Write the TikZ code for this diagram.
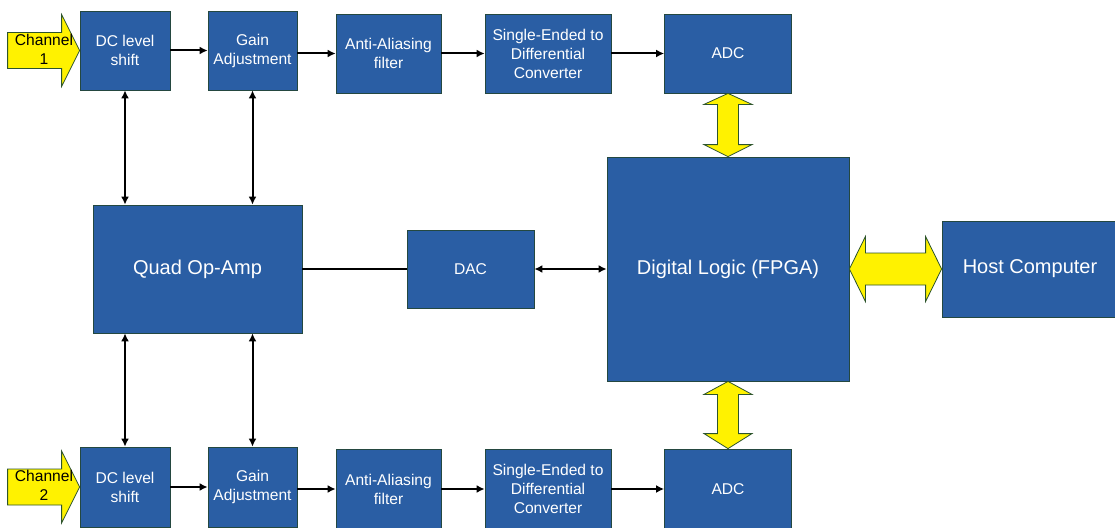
\documentclass[tikz,border=0pt]{standalone}
\usepackage{fontspec}
\setmainfont{Liberation Sans}
\usetikzlibrary{arrows.meta,calc}
\definecolor{blkblue}{RGB}{42,94,164}
\definecolor{blkedge}{RGB}{36,72,64}
\definecolor{arredge}{RGB}{44,84,44}

\begin{document}
\begin{tikzpicture}[x=1pt,y=-1pt]
	\tikzset{blk/.style={draw=blkedge, line width=0.8pt, fill=blkblue, text=white, align=center,
			inner sep=0pt, font=\fontsize{15.6}{19}\selectfont}}
	\tikzset{bigblk/.style={blk, font=\fontsize{20}{24}\selectfont}}
	\tikzset{sig/.style={-{Latex[length=8pt,width=8pt]}, line width=2pt}}
	\tikzset{bisig/.style={{Latex[length=8pt,width=8pt]}-{Latex[length=8pt,width=8pt]}, line width=2pt}}
	\tikzset{yarrow/.style={draw=arredge, fill=yellow, line width=0.8pt}}
	\tikzset{chlabel/.style={align=center, inner sep=0pt, font=\fontsize{15.6}{19}\selectfont}}
	\useasboundingbox (0,0) rectangle (1115,527);
	\node[blk, minimum width=90pt, minimum height=79pt] (dc1) at (125,50.5) {DC level\\shift};
	\node[blk, minimum width=89pt, minimum height=79pt] (gain1) at (252.5,50.5) {Gain\\Adjustment};
	\node[blk, minimum width=105pt, minimum height=79pt] (aa1) at (388.5,53.5) {Anti-Aliasing\\filter};
	\node[blk, minimum width=126pt, minimum height=79pt] (se1) at (548,53.5) {Single-Ended to\\Differential\\Converter};
	\node[blk, minimum width=127pt, minimum height=79pt] (adc1) at (728,53.5) {ADC};
	\node[bigblk, minimum width=209pt, minimum height=128pt] (quad) at (197.5,269) {Quad Op-Amp};
	\node[blk, minimum width=127pt, minimum height=78pt] (dac) at (470.5,269) {DAC};
	\node[bigblk, minimum width=242pt, minimum height=224pt] (fpga) at (728,269) {Digital Logic (FPGA)};
	\node[bigblk, minimum width=176pt, minimum height=96pt] (host) at (1030,269) {Host Computer};
	\node[blk, minimum width=90pt, minimum height=80pt] (dc2) at (125,487) {DC level\\shift};
	\node[blk, minimum width=89pt, minimum height=80pt] (gain2) at (252.5,487) {Gain\\Adjustment};
	\node[blk, minimum width=105pt, minimum height=80pt] (aa2) at (388.5,489) {Anti-Aliasing\\filter};
	\node[blk, minimum width=126pt, minimum height=80pt] (se2) at (548,489) {Single-Ended to\\Differential\\Converter};
	\node[blk, minimum width=127pt, minimum height=80pt] (adc2) at (728,489) {ADC};

	\draw[yarrow] (dc1.west) -- ++(-18,-36) -- ++(0,18) -- ++(-54,0) -- ++(0,36) -- ++(54,0) -- ++(0,18) -- cycle;
	\draw[yarrow] (dc2.west) -- ++(-18,-36) -- ++(0,18) -- ++(-54,0) -- ++(0,36) -- ++(54,0) -- ++(0,18) -- cycle;
	\node[chlabel] (ch1) at (44,49) {Channel\\1};
	\node[chlabel] (ch2) at (44,485) {Channel\\2};

	\draw[yarrow] (adc1.south) -- ++(24,11) -- ++(-13.5,0) -- ($(fpga.north)+(10.5,-12)$) -- ++(13.5,0)
		-- (fpga.north) -- ++(-24,-12) -- ++(13.5,0) -- ($(adc1.south)+(-10.5,11)$) -- ++(-13.5,0) -- cycle;
	\draw[yarrow] (fpga.south) -- ++(24,13) -- ++(-13.5,0) -- ($(adc2.north)+(10.5,-15)$) -- ++(13.5,0)
		-- (adc2.north) -- ++(-24,-15) -- ++(13.5,0) -- ($(fpga.south)+(-10.5,13)$) -- ++(-13.5,0) -- cycle;
	\draw[yarrow] (fpga.east) -- ++(16,-32.5) -- ++(0,16.5) -- ($(host.west)+(-16,-16)$) -- ++(0,-16.5)
		-- (host.west) -- ++(-16,32.5) -- ++(0,-16.5) -- ($(fpga.east)+(16,16)$) -- ++(0,16.5) -- cycle;

	\draw[sig] (dc1.east) -- (gain1.west);
	\draw[sig] (gain1.east |- aa1.west) -- (aa1.west);
	\draw[sig] (aa1.east) -- (se1.west);
	\draw[sig] (se1.east) -- (adc1.west);
	\draw[sig] (dc2.east) -- (gain2.west);
	\draw[sig] (gain2.east |- aa2.west) -- (aa2.west);
	\draw[sig] (aa2.east) -- (se2.west);
	\draw[sig] (se2.east) -- (adc2.west);
	\draw[bisig] (dc1.south) -- (dc1.south |- quad.north);
	\draw[bisig] (gain1.south) -- (gain1.south |- quad.north);
	\draw[bisig] (dc2.north |- quad.south) -- (dc2.north);
	\draw[bisig] (gain2.north |- quad.south) -- (gain2.north);
	\draw[line width=2pt] (quad.east) -- (dac.west);
	\draw[bisig] (dac.east) -- (fpga.west);
\end{tikzpicture}
\end{document}
